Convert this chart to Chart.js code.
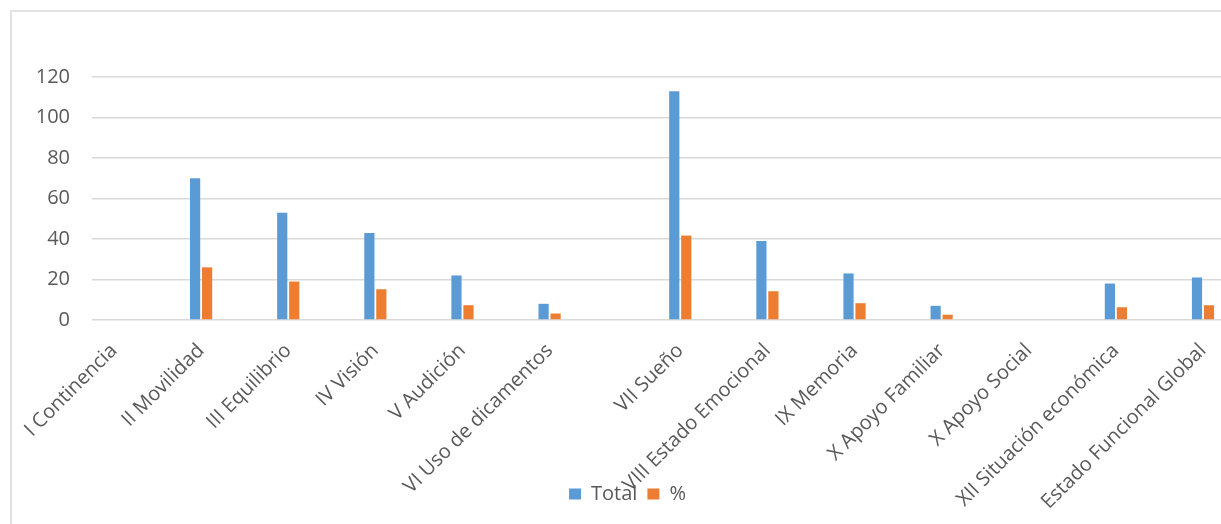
<!DOCTYPE html>
<html>
<head>
<meta charset="utf-8">
<script src="https://cdn.jsdelivr.net/npm/chart.js@4.4.1/dist/chart.umd.min.js"></script>
<style>
  html, body { margin: 0; padding: 0; background: #fff; overflow: hidden; }
  #wrap { position: relative; width: 1221px; height: 524px; }
  #frame { position: absolute; left: 10px; top: 10px; width: 1300px; height: 600px;
           border: 2px solid #e2e2e2; box-sizing: border-box; }
  canvas { position: absolute; left: 0; top: 0; }
</style>
</head>
<body>
<div id="wrap">
  <div id="frame"></div>
  <canvas id="chart" width="1221" height="524"></canvas>
</div>
<script>
// Categories of the functional assessment
const categories = [
  'I Continencia', 'II Movilidad', 'III Equilibrio', 'IV Visión', 'V Audición',
  'VI Uso de dicamentos', 'VII Sueño', 'VIII Estado Emocional', 'IX Memoria',
  'X Apoyo Familiar', 'X Apoyo Social', 'XII Situación económica', 'Estado Funcional Global'
];
const totalValues   = [0, 70, 53, 43, 22, 8, 113, 39, 23, 7, 0, 18, 21];
const percentValues = [0, 26, 19, 15.2, 7.3, 3.2, 41.7, 14.2, 8.3, 2.6, 0, 6.3, 7.3];
const yTickValues   = [0, 20, 40, 60, 80, 100, 120];
const seriesNames   = ['Total', '%'];

// Slot index of each category; sections from VII onward sit half a slot further right
const SECTION_BREAK = 6;
const slots = categories.map((_, i) => i + (i >= SECTION_BREAK ? 0.5 : 0));
const labelAt = new Map(slots.map((s, i) => [s, categories[i]]));

const FONT = "'Open Sans', 'Noto Sans', sans-serif";
const TEXT = '#595959';

new Chart(document.getElementById('chart'), {
  type: 'bar',
  data: {
    datasets: [
      { label: seriesNames[0], data: slots.map((x, i) => ({ x, y: totalValues[i] })),
        backgroundColor: '#5B9BD5' },
      { label: seriesNames[1], data: slots.map((x, i) => ({ x, y: percentValues[i] })),
        backgroundColor: '#ED7D31' }
    ]
  },
  options: {
    responsive: false,
    animation: false,
    categoryPercentage: 0.2755,
    barPercentage: 0.85,
    layout: { padding: { top: 77, right: 0, bottom: 10, left: 34 } },
    plugins: {
      tooltip: { enabled: false },
      legend: {
        position: 'bottom',
        labels: { boxWidth: 12, boxHeight: 11, padding: 10, color: TEXT,
                  font: { family: FONT, size: 20 } }
      }
    },
    scales: {
      x: {
        type: 'linear',
        offset: false,
        min: -0.2525,
        max: 12.7066,
        grid: { display: false },
        border: { display: false },
        afterBuildTicks: (axis) => { axis.ticks = slots.map(v => ({ value: v })); },
        afterFit: (axis) => { axis.height = 154; axis.paddingLeft = 0; axis.paddingRight = 0; },
        // long rotated labels run down past the axis box into the legend band
        afterUpdate: (axis) => { axis._computeLabelArea = () => undefined; },
        ticks: {
          autoSkip: false,
          minRotation: 45,
          maxRotation: 45,
          padding: 11,
          color: TEXT,
          font: { family: FONT, size: 20 },
          callback: (v) => labelAt.get(v) ?? ''
        }
      },
      y: {
        min: 0,
        max: 120,
        afterBuildTicks: (axis) => { axis.ticks = yTickValues.map(v => ({ value: v })); },
        afterFit: (axis) => { axis.width = 58; },
        grid: { color: '#d9d9d9', lineWidth: 1.5, drawTicks: false },
        border: { display: false },
        ticks: { padding: 22, color: TEXT, font: { family: FONT, size: 20 } }
      }
    }
  }
});
</script>
</body>
</html>
